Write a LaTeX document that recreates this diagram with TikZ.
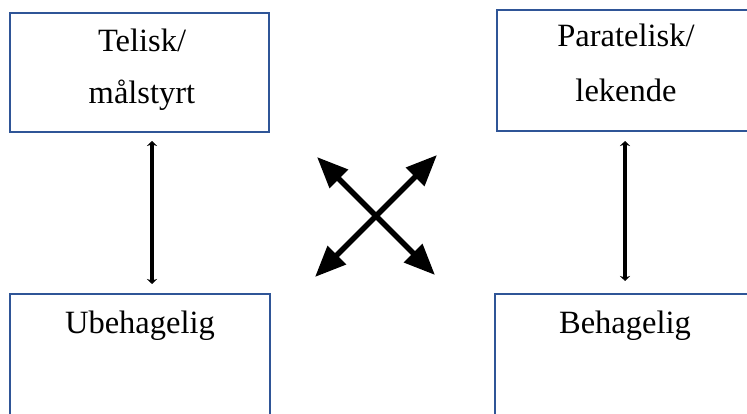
\documentclass[tikz,border=0pt]{standalone}
\usepackage{fontspec}
\setmainfont{Liberation Serif}
\usetikzlibrary{arrows.meta,calc}
\definecolor{boxblue}{RGB}{47,85,151}
\tikzset{
  box/.style={draw=boxblue, line width=2pt, inner sep=0pt, fill=white},
  lbl/.style={anchor=base, inner sep=0pt, font=\fontsize{32.5}{38}\selectfont},
  varrow/.style={line width=4.8pt, {Stealth[length=5pt,width=10pt]}-{Stealth[length=5pt,width=10pt]}},
  xarrow/.style={line width=5.5pt, {Triangle[length=31pt,width=25pt]}-{Triangle[length=31pt,width=25pt]}}
}
\begin{document}
\begin{tikzpicture}[x=1pt,y=-1pt]
\useasboundingbox (0,0) rectangle (747,414);
\begin{scope}
\clip (0,0) rectangle (747,414);
\node[box, minimum width=259pt, minimum height=119pt] (tl) at (139.5,72.5) {};
\node[box, minimum width=258pt, minimum height=121pt] (tr) at (626,70.5) {};
\node[box, minimum width=260pt, minimum height=136pt] (bl) at (140,362) {};
\node[box, minimum width=260pt, minimum height=136pt] (br) at (625,362) {};
\end{scope}
\node[lbl] (t1) at (142,52) {Telisk/};
\node[lbl] (t2) at (142,104) {målstyrt};
\node[lbl] (t3) at (626,47) {Paratelisk/};
\node[lbl] (t4) at (626,102) {lekende};
\node[lbl] (t5) at (140,333) {Ubehagelig};
\node[lbl] (t6) at (625,333) {Behagelig};
% vertical arrows
\draw[varrow] ([shift={(12.5,8)}]tl.south) -- ([shift={(12,-9)}]bl.north);
\draw[varrow] ([shift={(-1,9)}]tr.south) -- ([shift={(0,-12)}]br.north);
% cross
\coordinate (c1) at (317,157);
\coordinate (c2) at (437,155);
\coordinate (c3) at (315,277);
\coordinate (c4) at (435,275);
\draw[xarrow] (c1) -- (c4);
\draw[xarrow] (c2) -- (c3);
\end{tikzpicture}
\end{document}
